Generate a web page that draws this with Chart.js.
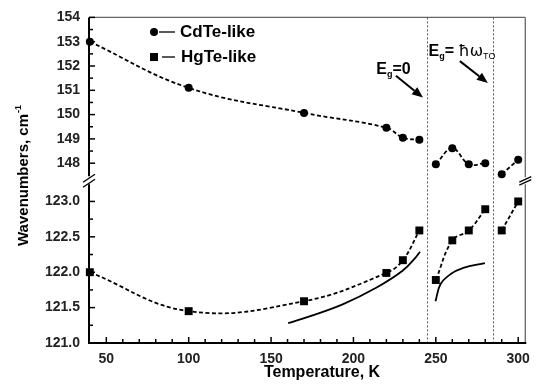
<!DOCTYPE html>
<html>
<head>
<meta charset="utf-8">
<script src="https://cdn.jsdelivr.net/npm/chart.js@4.4.0/dist/chart.umd.min.js"></script>
<style>
  html, body { margin: 0; padding: 0; background: #fff; }
</style>
</head>
<body>
<canvas id="chart" width="538" height="389"></canvas>
<script>
// measured points, temperature in K; null marks a break between regions
const cdTemps  = [40, 100, 170, 220, 230, 240, 245, 250, 260, 270, 280, 285, 290, 300];
const cdValues = [153.0, 151.1, 150.07, 149.46, 149.05, 148.96, null, 147.96, 148.61, 147.96, 148.0, null, 147.55, 148.14];
const hgTemps  = [40, 100, 170, 220, 230, 240, 245, 250, 260, 270, 280, 285, 290, 300];
const hgValues = [122.0, 121.45, 121.59, 121.99, 122.17, 122.59, null, 121.89, 122.45, 122.59, 122.89, null, 122.59, 123.0];

// calculated HgTe-like curve (solid line)
const calcTemps  = [160.4, 173.8, 193.8, 213.8, 229.8, 237.8, 240.4, 245, 249.8, 252.8, 258.8, 266.7, 279.8];
const calcValues = [121.28, 121.38, 121.55, 121.78, 122.02, 122.21, 122.29, null, 121.59, 121.83, 121.97, 122.06, 122.13];

// Eg = 0 and Eg = hw(TO)
const transitionTemps = [244.5, 284.5];

const xTicks = [50, 100, 150, 200, 250, 300];
const xMinorTicks = [60, 70, 80, 90, 110, 120, 130, 140, 160, 170, 180, 190, 210, 220, 230, 240, 260, 270, 280, 290];
const upperTicks = [148, 149, 150, 151, 152, 153, 154];
const upperMinorTicks = [148.5, 149.5, 150.5, 151.5, 152.5, 153.5];
const lowerTicks = [121.0, 121.5, 122.0, 122.5, 123.0];
const lowerMinorTicks = [121.25, 121.75, 122.25, 122.75];

const FONT = '"Liberation Sans", Arial, sans-serif';

function toXY(ts, vs) {
  return ts.map((t, i) => ({ x: t, y: vs[i] }));
}

function line(ctx, x1, y1, x2, y2) {
  ctx.beginPath(); ctx.moveTo(x1, y1); ctx.lineTo(x2, y2); ctx.stroke();
}

function arrow(ctx, x1, y1, x2, y2) {
  const ang = Math.atan2(y2 - y1, x2 - x1);
  const hl = 11, hw = 4.5;
  const bx = x2 - hl * Math.cos(ang), by = y2 - hl * Math.sin(ang);
  ctx.lineWidth = 2;
  line(ctx, x1, y1, bx, by);
  ctx.beginPath();
  ctx.moveTo(x2, y2);
  ctx.lineTo(bx + hw * Math.sin(ang), by - hw * Math.cos(ang));
  ctx.lineTo(bx - hw * Math.sin(ang), by + hw * Math.cos(ang));
  ctx.closePath(); ctx.fill();
}

// text made of pieces (subscripts etc.)
function parts(ctx, x, y, list) {
  ctx.textAlign = 'left'; ctx.textBaseline = 'alphabetic';
  list.forEach(p => {
    ctx.font = p.font;
    ctx.fillText(p.t, x, y + (p.dy || 0));
    x += ctx.measureText(p.t).width;
  });
}

const decor = {
  id: 'decor',
  beforeDatasetsDraw(chart) {
    const { ctx, chartArea: a, scales: { x } } = chart;
    ctx.save();
    ctx.strokeStyle = '#555'; ctx.lineWidth = 1; ctx.setLineDash([2, 2]);
    transitionTemps.forEach(t => {
      const p = Math.round(x.getPixelForValue(t)) + 0.5;
      line(ctx, p, a.top, p, a.bottom);
    });
    ctx.restore();
  },
  afterDatasetsDraw(chart) {
    const { ctx, chartArea: a, scales: { x, yTop, yBot } } = chart;
    const brk = yTop.bottom;
    ctx.save();
    ctx.fillStyle = '#000'; ctx.strokeStyle = '#000';

    // frame
    ctx.lineWidth = 1.3; ctx.strokeStyle = '#666';
    line(ctx, a.left, a.top, a.right, a.top);
    line(ctx, a.right, a.top, a.right, brk - 3);
    line(ctx, a.right, brk + 4, a.right, a.bottom);
    ctx.strokeStyle = '#000'; ctx.lineWidth = 2;
    line(ctx, a.left, a.bottom, a.right + 1, a.bottom);
    line(ctx, a.left, a.top, a.left, brk - 4);
    line(ctx, a.left, brk + 4, a.left, a.bottom + 1);

    // inward ticks
    ctx.lineWidth = 1.5;
    xTicks.forEach(t => { const p = x.getPixelForValue(t); line(ctx, p, a.bottom, p, a.bottom - 6); });
    xMinorTicks.forEach(t => { const p = x.getPixelForValue(t); line(ctx, p, a.bottom, p, a.bottom - 4); });
    upperTicks.forEach(v => { const p = yTop.getPixelForValue(v); line(ctx, a.left, p, a.left + 6, p); });
    upperMinorTicks.forEach(v => { const p = yTop.getPixelForValue(v); line(ctx, a.left, p, a.left + 4, p); });
    lowerTicks.forEach(v => { const p = yBot.getPixelForValue(v); line(ctx, a.left, p, a.left + 6, p); });
    lowerMinorTicks.forEach(v => { const p = yBot.getPixelForValue(v); line(ctx, a.left, p, a.left + 4, p); });

    // axis breaks
    ctx.lineWidth = 1.3;
    line(ctx, a.left - 6, brk + 2, a.left + 6, brk - 6);
    line(ctx, a.left - 6, brk + 7, a.left + 6, brk - 1);
    line(ctx, a.right - 6, brk + 5, a.right + 6, brk - 0.5);
    line(ctx, a.right - 6, brk + 2, a.right + 6, brk - 3.5);

    // legend
    ctx.lineWidth = 1.3;
    ctx.beginPath(); ctx.arc(154, 32, 4, 0, Math.PI * 2); ctx.fill();
    line(ctx, 159, 32, 175, 32);
    ctx.fillRect(150, 53, 8, 8);
    line(ctx, 162, 57, 175, 57);
    ctx.font = 'bold 17px ' + FONT; ctx.textBaseline = 'middle'; ctx.textAlign = 'left';
    ctx.fillText('CdTe-like', 180, 32);
    ctx.fillText('HgTe-like', 181, 57);

    // annotations
    parts(ctx, x.getPixelForValue(213.9), yTop.getPixelForValue(151.68), [
      { t: 'E', font: 'bold 16px ' + FONT },
      { t: 'g', font: 'bold 9px ' + FONT, dy: 3 },
      { t: '=0', font: 'bold 16px ' + FONT }
    ]);
    arrow(ctx, x.getPixelForValue(225.8), yTop.getPixelForValue(151.6),
               x.getPixelForValue(242.2), yTop.getPixelForValue(150.7));
    parts(ctx, x.getPixelForValue(245.6), yTop.getPixelForValue(152.42), [
      { t: 'E', font: 'bold 16px ' + FONT },
      { t: 'g', font: 'bold 9px ' + FONT, dy: 3 },
      { t: '= ', font: 'bold 16px ' + FONT },
      { t: 'ħω', font: '16px "DejaVu Sans"' },
      { t: 'TO', font: '9px ' + FONT, dy: 3 }
    ]);
    arrow(ctx, x.getPixelForValue(264.6), yTop.getPixelForValue(152.2),
               x.getPixelForValue(281.6), yTop.getPixelForValue(151.3));

    // axis titles
    ctx.font = 'bold 16px ' + FONT; ctx.textAlign = 'center'; ctx.textBaseline = 'middle';
    ctx.fillText('Temperature, K', 322, 373);
    ctx.save();
    ctx.translate(23, 176); ctx.rotate(-Math.PI / 2);
    ctx.font = 'bold 15px ' + FONT;
    const main = 'Wavenumbers, cm', w1 = ctx.measureText(main).width;
    ctx.font = 'bold 9px ' + FONT;
    const w2 = ctx.measureText('-1').width;
    ctx.textAlign = 'left'; ctx.textBaseline = 'alphabetic';
    ctx.font = 'bold 15px ' + FONT;
    ctx.fillText(main, -(w1 + w2) / 2, 5);
    ctx.font = 'bold 9px ' + FONT;
    ctx.fillText('-1', -(w1 + w2) / 2 + w1 + 1, -2);
    ctx.restore();

    ctx.restore();
  }
};

const tickFont = { family: FONT, size: 14, weight: 'bold' };

new Chart(document.getElementById('chart'), {
  type: 'line',
  data: {
    datasets: [
      {
        label: 'CdTe-like', data: toXY(cdTemps, cdValues), yAxisID: 'yTop',
        borderColor: '#000', borderWidth: 1.8, borderDash: [4, 2.5], tension: 0.4,
        pointStyle: 'circle', pointRadius: 4, pointBackgroundColor: '#000', pointBorderWidth: 0,
        spanGaps: false, clip: false
      },
      {
        label: 'HgTe-like', data: toXY(hgTemps, hgValues), yAxisID: 'yBot',
        borderColor: '#000', borderWidth: 1.8, borderDash: [4, 2.5], tension: 0.4,
        pointStyle: 'rect', pointRadius: 5.6, pointBackgroundColor: '#000', pointBorderWidth: 0,
        spanGaps: false, clip: false
      },
      {
        label: 'calc', data: toXY(calcTemps, calcValues), yAxisID: 'yBot',
        borderColor: '#000', borderWidth: 1.8, tension: 0.4, pointRadius: 0,
        spanGaps: false
      }
    ]
  },
  options: {
    responsive: false,
    animation: false,
    layout: { padding: { top: 15, right: 7, left: 0, bottom: 0 } },
    plugins: { legend: { display: false }, tooltip: { enabled: false } },
    scales: {
      x: {
        type: 'linear', min: 39.5, max: 304.3,
        grid: { display: false, drawTicks: false }, border: { display: false },
        afterBuildTicks: s => { s.ticks = xTicks.map(v => ({ value: v })); },
        afterFit: s => { s.height = 46; },
        ticks: { font: tickFont, color: '#222', padding: 8, maxRotation: 0, autoSkip: false }
      },
      // in a stack the scale listed first is placed lowest
      yBot: {
        type: 'linear', position: 'left', stack: 'wn', stackWeight: 1,
        min: 121, max: 123.3,
        grid: { display: false, drawTicks: false }, border: { display: false },
        afterBuildTicks: s => { s.ticks = lowerTicks.map(v => ({ value: v })); },
        afterFit: s => { s.width = 89; },
        ticks: { font: tickFont, color: '#222', padding: 9, autoSkip: false, callback: v => v.toFixed(1) }
      },
      yTop: {
        type: 'linear', position: 'left', stack: 'wn', stackWeight: 1,
        min: 147.3, max: 154,
        grid: { display: false, drawTicks: false }, border: { display: false },
        afterBuildTicks: s => { s.ticks = upperTicks.map(v => ({ value: v })); },
        afterFit: s => { s.width = 89; },
        ticks: { font: tickFont, color: '#222', padding: 9, autoSkip: false, callback: v => String(v) }
      }
    }
  },
  plugins: [decor]
});
</script>
</body>
</html>
